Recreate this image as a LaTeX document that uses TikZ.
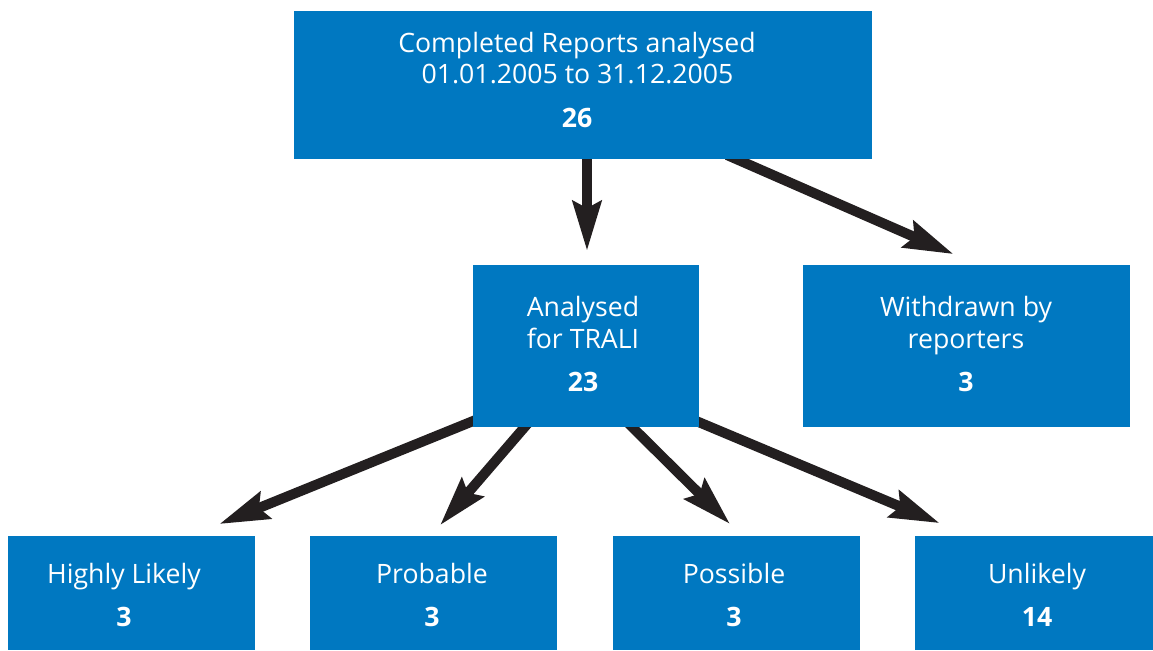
\documentclass[tikz,border=0pt]{standalone}
\usepackage{fontspec}
\setmainfont{Open Sans}
\usetikzlibrary{arrows.meta}
\definecolor{boxblue}{RGB}{0,120,193}
\definecolor{arrowblack}{RGB}{35,31,32}
\pgfdeclarelayer{bg}
\pgfsetlayers{bg,main}
\begin{document}
\begin{tikzpicture}[x=0.75pt,y=-0.75pt,
 box/.style={fill=boxblue, inner sep=0pt, outer sep=0pt, draw=none},
 lbl/.style={text=white, anchor=base, inner sep=0pt, font=\fontsize{20}{24}\selectfont},
 num/.style={lbl, font=\fontsize{20}{24}\selectfont\bfseries},
 arr/.style={draw=arrowblack, line width=7.5pt, -{Stealth[length=37pt,width=21pt,inset=5pt]}}]
\useasboundingbox (0,0) rectangle (1153,650);
\node[box, minimum width=433.5pt, minimum height=111pt] (top) at (583,85) {};
\node[box, minimum width=169.5pt, minimum height=121.5pt] (ana) at (586,346) {};
\node[box, minimum width=245.25pt, minimum height=121.5pt] (wd) at (966.5,346) {};
\node[box, minimum width=185.25pt, minimum height=85.5pt] (hl) at (131.5,593) {};
\node[box, minimum width=185.25pt, minimum height=85.5pt] (pr) at (433.5,593) {};
\node[box, minimum width=185.25pt, minimum height=85.5pt] (po) at (736.5,593) {};
\node[box, minimum width=178.5pt, minimum height=85.5pt] (un) at (1034,593) {};

\node[lbl] (t1) at (577,52) {Completed Reports analysed};
\node[lbl] (t2) at (577.5,83) {01.01.2005 to 31.12.2005};
\node[num] (t3) at (577,127) {26};
\node[lbl] (a1) at (583,316) {Analysed};
\node[lbl] (a2) at (583,348) {for TRALI};
\node[num] (a3) at (583,391) {23};
\node[lbl] (w1) at (966,316) {Withdrawn by};
\node[lbl] (w2) at (966,348) {reporters};
\node[num] (w3) at (966,391) {3};
\node[lbl] (h1) at (124,583) {Highly Likely};
\node[num] (h2) at (124,626) {3};
\node[lbl] (p1) at (432,583) {Probable};
\node[num] (p2) at (432,626) {3};
\node[lbl] (o1) at (734,583) {Possible};
\node[num] (o2) at (734,626) {3};
\node[lbl] (u1) at (1037,583) {Unlikely};
\node[num] (u2) at (1037,626) {14};

\begin{pgfonlayer}{bg}
\draw[arr] ([shift={(4,-9)}]top.south) -- ([shift={(1,-14)}]ana.north);
\draw[arr] ([shift={(144,-4)}]top.south) -- ([shift={(-12.8,-10.8)}]wd.north);
\draw[arr] ([shift={(10,-10)}]ana.south west) -- ([shift={(87.7,-11.9)}]hl.north);
\draw[arr] ([shift={(62,-12)}]ana.south west) -- ([shift={(6.5,-10.7)}]pr.north);
\draw[arr] ([shift={(34,-12)}]ana.south) -- ([shift={(-6.4,-11.9)}]po.north);
\draw[arr] ([shift={(-10,-9)}]ana.south east) -- ([shift={(-94.2,-12.8)}]un.north);
\end{pgfonlayer}
\end{tikzpicture}
\end{document}
